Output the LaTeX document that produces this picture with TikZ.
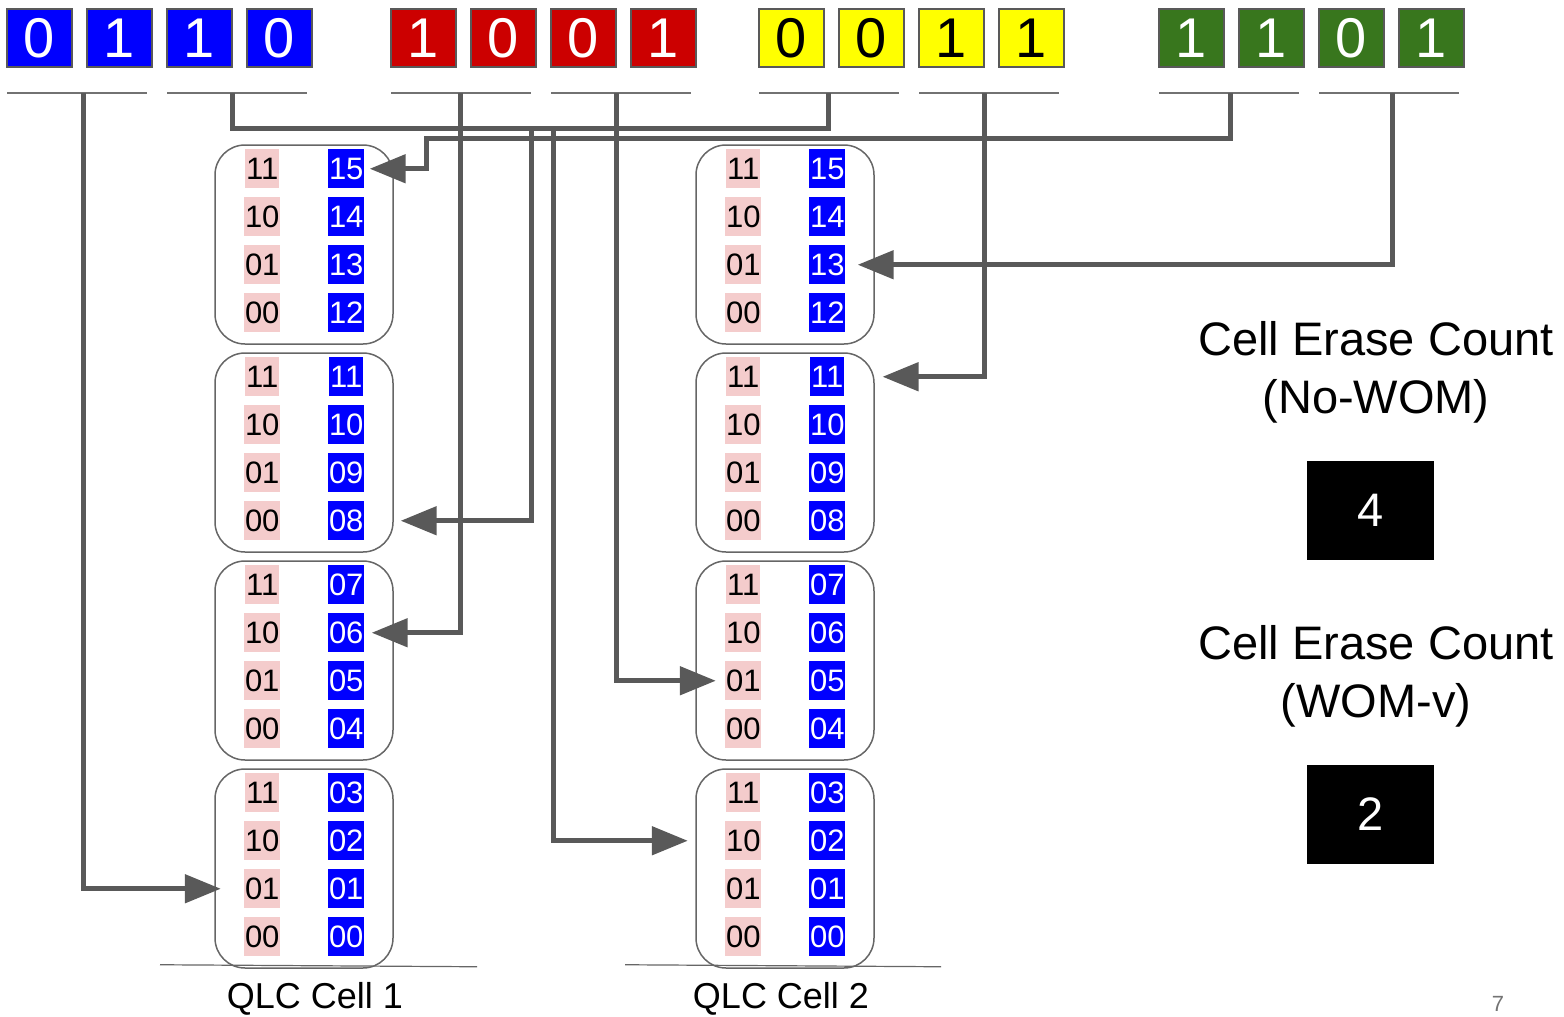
\documentclass[tikz,border=0pt]{standalone}
\usepackage{fontspec}
\setmainfont{Liberation Sans}
\usetikzlibrary{arrows.meta,positioning,calc}
\definecolor{wire}{HTML}{595959}
\definecolor{rim}{HTML}{666666}
\definecolor{wblue}{HTML}{0000FF}
\definecolor{wred}{HTML}{CC0000}
\definecolor{wyel}{HTML}{FFFF00}
\definecolor{wgrn}{HTML}{38761D}
\definecolor{lvpink}{HTML}{F4CCCC}
\tikzset{
  bit/.style={draw=wire, line width=1.5pt, minimum width=65pt, minimum height=58pt,
              inner sep=0pt, font=\fontsize{56}{60}\selectfont},
  grp/.style={draw=wire!85, line width=1.2pt},
  cellbox/.style={draw=rim, line width=1.5pt, rounded corners=30pt,
                  minimum width=178pt, minimum height=199pt},
  lv/.style={fill=lvpink, inner xsep=1pt, inner ysep=0pt, minimum height=39pt,
             font=\fontsize{31}{33}\selectfont},
  st/.style={lv, fill=wblue, text=white},
  sig/.style={draw=wire, line width=5pt, -{Triangle[length=36pt,width=28pt]}},
  celllbl/.style={font=\fontsize{36}{40}\selectfont, inner sep=0pt},
  head/.style={font=\fontsize{47}{58}\selectfont, align=center, inner sep=0pt},
  cnt/.style={fill=black, text=white, minimum width=127pt, minimum height=99pt,
              font=\fontsize{47}{50}\selectfont},
}

\begin{document}
\begin{tikzpicture}[x=1pt,y=-1pt]
  \useasboundingbox (0,0) rectangle (1564,1017);

  % four writes of 4 bits each, with a bar under every pair
  \foreach \g/\L/\col/\txt/\a/\b/\c/\d in {b/7/wblue/white/0/1/1/0,
      r/391/wred/white/1/0/0/1, y/759/wyel/black/0/0/1/1, g/1159/wgrn/white/1/1/0/1} {
    \foreach \v [count=\k] in {\a,\b,\c,\d}
      \node[bit, fill=\col, text=\txt] (bit-\g\k) at ({\L+32.5+80*(\k-1)},38) {\v};
    \draw[grp] (\L,93) -- ++(140,0);
    \draw[grp] ({\L+160},93) -- ++(140,0);
  }
  \coordinate (tap-b1) at (83,93);
  \coordinate (tap-b2) at (232,93);
  \coordinate (tap-r1) at (460,93);
  \coordinate (tap-r2) at (616,93);
  \coordinate (tap-y1) at (828,93);
  \coordinate (tap-y2) at (984,93);
  \coordinate (tap-g1) at (1230,93);
  \coordinate (tap-g2) at (1392,93);

  % two QLC cells, four groups of levels each
  \foreach \c/\cx in {1/304,2/785} {
    \foreach \s in {1,...,4} {
      \node[cellbox] (c\c-\s) at (\cx,{244.5+208*(\s-1)}) {};
      \foreach \v [count=\r] in {11,10,01,00} {
        \pgfmathtruncatemacro\lvn{4*(4-\s)+4-\r}
        \node[lv] (c\c-\s-l\r) at ($(c\c-\s.north west)+(48,{24.5+48*(\r-1)})$) {\v};
        \node[st] (c\c-\s-n\r) at ($(c\c-\s-l\r)+(84,0)$) {\ifnum\lvn<10 0\fi\lvn};
      }
    }
  }
  \draw[rim, line width=1.2pt] ($(c1-4.south)+(-144,-4)$) -- ($(c1-4.south)+(173,-2)$);
  \draw[rim, line width=1.2pt] ($(c2-4.south)+(-160,-4)$) -- ($(c2-4.south)+(156,-2)$);
  \node[celllbl] (q1) at (315,999) {QLC Cell 1};
  \node[celllbl] (q2) at (781,999) {QLC Cell 2};

  % where each pair of bits goes
  \draw[sig] (tap-b1) |- ([xshift=-23pt]c1-4-l3.west);
  \draw[sig] (tap-b2) |- (553,128) |- ([xshift=-37pt]c2-4-l2.west);
  \draw[sig] (tap-r1) |- ([xshift=7pt]c1-3-n2.east);
  \draw[sig] (tap-r2) |- ([xshift=-9pt]c2-3-l3.west);
  \draw[sig] (tap-y1) |- (531,128) |- ([xshift=36pt]c1-2-n4.east);
  \draw[sig] (tap-y2) |- ([xshift=38pt]c2-2-n1.east);
  \draw[sig] (tap-g1) |- (426,138) |- ([xshift=5pt]c1-1-n1.east);
  \draw[sig] (tap-g2) |- ([xshift=12pt]c2-1-n3.east);

  % erase counters
  \node[head] (h1) at (1376,372) {Cell Erase Count\\(No-WOM)};
  \node[cnt] (n1) at (1370.5,510.5) {4};
  \node[head] (h2) at (1376,676) {Cell Erase Count\\(WOM-v)};
  \node[cnt] (n2) at (1370.5,814.5) {2};
  \node[font=\fontsize{22}{24}\selectfont, text=black!55] (pg) at (1498,1004) {7};
\end{tikzpicture}
\end{document}
